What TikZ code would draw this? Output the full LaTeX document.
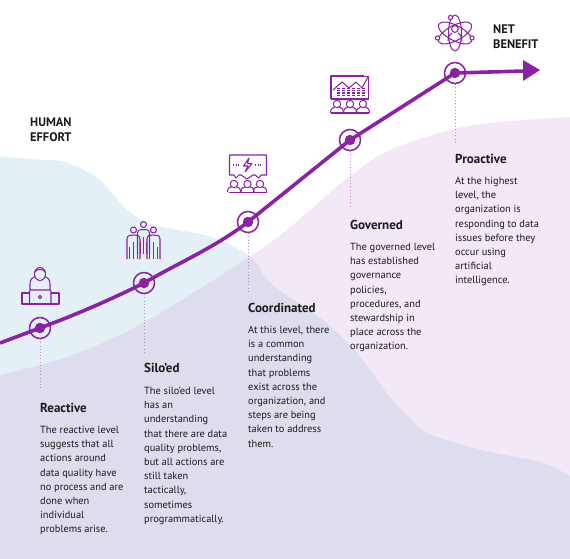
\documentclass[tikz,border=0pt]{standalone}
\usepackage{fontspec}
\setmainfont{PT Sans}
\usetikzlibrary{arrows.meta}
\definecolor{vio}{HTML}{8A22A6}
\definecolor{bluebg}{HTML}{E4F0F6}
\definecolor{pinkbg}{HTML}{F3E8F6}
\definecolor{lavbg}{HTML}{DEDDEE}
\definecolor{ink}{HTML}{1A1A1A}
\newcommand{\pinkpath}{plot[smooth,tension=0.55] coordinates {(570,117) (500,122) (450,130) (390,150) (350,176) (310,210) (283,233) (248,258) (143,323) (70,356) (0,375)} -- (0,559) -- (570,559) -- cycle}
\newcommand{\bluepath}{plot[smooth,tension=0.55] coordinates {(0,156) (30,159) (60,161) (80,168) (100,180) (115,197) (130,212) (150,224) (180,230) (215,238) (240,250) (255,261) (265,277) (283,293) (323,320) (357,353) (390,397) (420,428) (440,438) (490,452) (540,462) (570,476)} -- (570,559) -- (0,559) -- cycle}
\newcommand{\bust}[3]{% centre x, head y, base y
  \draw[icon] (#1,#2) circle (3.7);
  \draw[icon] (#1-6.5,#3) .. controls (#1-6.5,#3-5) and (#1-4,#3-4.5) .. (#1-2.5,#2+3) (#1+2.5,#2+3) .. controls (#1+4,#3-4.5) and (#1+6.5,#3-5) .. (#1+6.5,#3);
}
\newcommand{\standing}[3]{% centre x, head y, half width
  \draw[icon] (#1,#2) circle (3);
  \draw[icon] (#1-#3,#2+29) -- (#1-#3,#2+9) .. controls (#1-#3,#2+5) and (#1-3,#2+5) .. (#1,#2+5) .. controls (#1+3,#2+5) and (#1+#3,#2+5) .. (#1+#3,#2+9) -- (#1+#3,#2+29);
  \draw[icon] (#1-#3+2.6,#2+17) -- (#1-#3+2.6,#2+29) (#1,#2+12) -- (#1,#2+29) (#1+#3-2.6,#2+17) -- (#1+#3-2.6,#2+29);
}
\tikzset{
  icon/.style={draw=vio,line width=1.05pt,line join=round},
  ring/.style={circle,draw=vio,line width=1.5pt,minimum size=21pt,inner sep=0pt},
  hub/.style={circle,fill=vio,minimum size=10.5pt,inner sep=0pt},
  guide/.style={draw=vio!55,line width=0.8pt,dash pattern=on 1pt off 2.2pt},
  curveline/.style={draw=vio,line width=3.6pt},
  title/.style={anchor=north west,inner sep=0pt,text=ink,font=\fontsize{13}{14}\selectfont\bfseries},
  body/.style={anchor=north west,inner sep=0pt,align=left,text=ink,font=\fontsize{10.4}{14.2}\selectfont},
  head/.style={anchor=north west,inner sep=0pt,align=left,text=ink,font=\fontsize{12.4}{14.8}\selectfont\bfseries},
}
\begin{document}
\begin{tikzpicture}[x=1pt,y=-1pt]
\useasboundingbox (0,0) rectangle (570,559);
% background
\fill[pinkbg] \pinkpath;
\fill[bluebg] \bluepath;
\begin{scope}
  \clip \pinkpath;
  \fill[lavbg] \bluepath;
\end{scope}
% anchors
\coordinate (start) at (0,343);
\coordinate (tip) at (540,70);
\node[ring] (r1) at (40,328) {};
\node[ring] (r2) at (144,283) {};
\node[ring] (r3) at (248,222) {};
\node[ring] (r4) at (350,140) {};
\node[ring] (r5) at (455,73) {};
% guides
\coordinate (g1) at (40,390);
\coordinate (g2) at (144,352);
\coordinate (g3) at (248,293);
\coordinate (g4) at (350,208);
\coordinate (g5) at (455,143);
\foreach \a/\b in {r1/g1,r2/g2,r3/g3,r4/g4,r5/g5} \draw[guide] (\a.south) -- (\b);
% main line
\draw[curveline] (start) -- (r1.center) .. controls (75,315) and (110,300) .. (r2.center) .. controls (180,262) and (214,248) .. (r3.center) -- (r4.center) -- (r5.center) -- (525,71);
\fill[vio] (523,60) -- (tip) -- (523,81) -- cycle;
\node[hub] (d1) at (r1.center) {};
\node[hub] (d2) at (r2.center) {};
\node[hub] (d3) at (r3.center) {};
\node[hub] (d4) at (r4.center) {};
\node[hub] (d5) at (r5.center) {};
% head labels
\node[head] (he) at (30,117.5) {HUMAN\\EFFORT};
\node[head] (nb) at (493,24.5) {NET\\BENEFIT};
% texts
\node[title] (t1) at (40,403) {Reactive};
\node[body] (b1) at (40,426) {The reactive level\\suggests that all\\actions around\\data quality have\\no process and are\\done when\\individual\\problems arise.};
\node[title] (t2) at (144,363) {Silo’ed};
\node[body] (b2) at (144,387) {The silo’ed level\\has an\\understanding\\that there are data\\quality problems,\\but all actions are\\still taken\\tactically,\\sometimes\\programmatically.};
\node[title] (t3) at (248,303) {Coordinated};
\node[body] (b3) at (248,326) {At this level, there\\is a common\\understanding\\that problems\\exist across the\\organization, and\\steps are being\\taken to address\\them.};
\node[title] (t4) at (350,220) {Governed};
\node[body] (b4) at (350,243) {The governed level\\has established\\governance\\policies,\\procedures, and\\stewardship in\\place across the\\organization.};
\node[title] (t5) at (455,154) {Proactive};
\node[body] (b5) at (455,177) {At the highest\\level, the\\organization is\\responding to data\\issues before they\\occur using\\artificial\\intelligence.};
% icon 1: person at laptop
\draw[icon] (40,274) ellipse (5.5 and 6.5);
\draw[icon] (34.5,272) .. controls (38,268) and (43,269) .. (45.5,272);
\draw[icon] (30,290) -- (30,284) .. controls (30,279) and (33,277) .. (35,277) (45,277) .. controls (47,277) and (50,279) .. (50,284) -- (50,290);
\draw[icon,rounded corners=1pt] (29.5,290) rectangle (51,304);
\draw[icon] (30,293) -- (22,293) -- (22,304) -- (59,304) -- (59,293) -- (51,293);
\draw[icon] (40,297) circle (1.6);
% icon 2: three people
\standing{133.5}{230}{6.5}
\standing{153.5}{230}{6.5}
\standing{143.5}{224.5}{6}
% icon 3: speech box and bolt
\draw[icon] (229.5,155) -- (266.5,155) -- (266.5,175) -- (261,175) -- (259,178) -- (255,175) -- (253,175) -- (247,179) -- (241,175) -- (239,175) -- (236,178) -- (234,175) -- (229.5,175) -- cycle;
\draw[icon] (249,158) -- (243.5,166) -- (248,166) -- (245,172) -- (252,163.5) -- (247.5,163.5) -- cycle;
\draw[icon,dash pattern=on 1.3pt off 1.2pt] (233,165) -- (240,165) (255,165) -- (262,165);
\bust{234}{184}{192}
\bust{247.5}{184}{192}
\bust{260}{184}{192}
\draw[icon] (229,192.5) -- (266.5,192.5);
% icon 4: chart and people
\draw[icon] (331,99) -- (331,76) -- (364,76) (368.5,81) -- (368.5,99);
\draw[icon] (331,99) -- (368.5,99);
\draw[icon] (333,90) -- (342,82) -- (349,88) -- (356,82) -- (362,88) -- (368,77);
\draw[icon] (364,76.5) -- (368.5,76.5) -- (368.5,81);
\foreach \x in {336,341,346,351,356,361} {\draw[draw=vio,line width=3pt,dash pattern=on 1.4pt off 0.9pt] (\x+2,96) -- (\x+2,88);}
\bust{337}{104}{113}
\bust{350}{104}{113}
\bust{363}{104}{113}
\draw[icon] (331,113) -- (369,113);
% icon 5: atom
\draw[icon] (455,33) ellipse (6.5 and 18);
\draw[icon,rotate around={62:(455,33)}] (455,33) ellipse (7.5 and 18.5);
\draw[icon,rotate around={-62:(455,33)}] (455,33) ellipse (7.5 and 18.5);
\draw[icon] (455,29) circle (3.4);
\draw[icon] (448,41) .. controls (448,35) and (451,34) .. (452,33) (458,33) .. controls (459,34) and (462,35) .. (462,41);
\draw[icon,fill=white] (450.5,17.5) circle (2.1);
\draw[icon,fill=white] (437.5,38) circle (2.1);
\draw[icon,fill=white] (472,38) circle (2.1);
\end{tikzpicture}
\end{document}
